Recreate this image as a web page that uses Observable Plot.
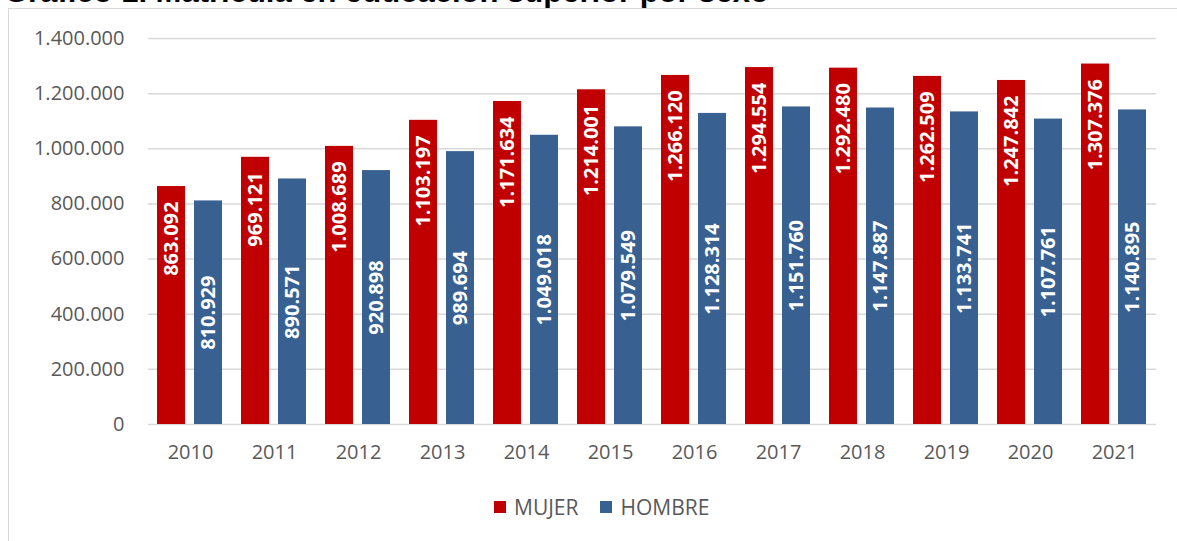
<!DOCTYPE html>
<html>
<head>
<meta charset="utf-8">
<script src="https://cdn.jsdelivr.net/npm/d3@7"></script>
<script src="https://cdn.jsdelivr.net/npm/@observablehq/plot@0.6"></script>
<style>
  html, body { margin: 0; padding: 0; background: #fff; overflow: hidden; }
  #wrap { position: relative; width: 1177px; height: 541px; overflow: hidden; }
  #title { position: absolute; left: 4px; top: -26px; font: bold 31px "Liberation Sans", Arial, sans-serif; color: #000; white-space: nowrap; line-height: 36px; }
  #frame { position: absolute; left: 8px; top: 8px; width: 1200px; height: 600px; border: 1px solid #d9d9d9; box-sizing: border-box; }
  #chart { position: absolute; left: 0; top: 0; }
  #legend { position: absolute; left: 494px; top: 493px; display: flex; align-items: center; font: 21px "Open Sans", sans-serif; color: #595959; }
  #legend .sw { width: 12px; height: 12px; display: inline-block; margin-right: 8px; }
  #legend .item { display: flex; align-items: center; margin-right: 22px; }
</style>
</head>
<body>
<div id="wrap">
  <div id="title">Gráfico 1. Matrícula en educación superior por sexo</div>
  <div id="frame"></div>
  <div id="chart"></div>
  <div id="legend"></div>
</div>
<script>
const years = ["2010","2011","2012","2013","2014","2015","2016","2017","2018","2019","2020","2021"];
const series = ["MUJER", "HOMBRE"];
const colors = ["#c00000", "#386192"];
const mujer = [863092, 969121, 1008689, 1103197, 1171634, 1214001, 1266120, 1294554, 1292480, 1262509, 1247842, 1307376];
const hombre = [810929, 890571, 920898, 989694, 1049018, 1079549, 1128314, 1151760, 1147887, 1133741, 1107761, 1140895];
const yTicks = [0, 200000, 400000, 600000, 800000, 1000000, 1200000, 1400000];

const fmt = d3.formatLocale({decimal: ",", thousands: ".", grouping: [3], currency: ["", ""]}).format(",d");

const data = [];
years.forEach((yr, i) => {
  data.push({year: yr, sex: "MUJER", value: mujer[i]});
  data.push({year: yr, sex: "HOMBRE", value: hombre[i]});
});
const dM = data.filter(d => d.sex === "MUJER");
const dH = data.filter(d => d.sex === "HOMBRE");

const chart = Plot.plot({
  width: 1177,
  height: 470,
  marginLeft: 146,
  marginRight: 19,
  marginTop: 38,
  marginBottom: 46,
  style: {fontFamily: "'Open Sans', sans-serif", background: "transparent"},
  fx: {domain: years, padding: 0, label: null, axis: null},
  x: {domain: series, paddingInner: 0.237, paddingOuter: 0.228, axis: null},
  y: {domain: [0, 1400000], ticks: yTicks, label: null, axis: null},
  color: {domain: series, range: colors},
  marks: [
    Plot.gridY(yTicks, {stroke: "#d9d9d9", strokeOpacity: 1, strokeWidth: 1.5}),
    Plot.axisY(yTicks, {tickSize: 0, tickPadding: 24, tickFormat: d => d === 0 ? "0" : fmt(d), fontSize: 20, fill: "#595959", label: null}),
    Plot.axisFx({anchor: "bottom", tickSize: 0, tickPadding: 20, fontSize: 20, fill: "#595959", label: null}),
    Plot.barY(data, {fx: "year", x: "sex", y: "value", fill: "sex", inset: 0}),
    Plot.text(dM, {fx: "year", x: "sex", y: "value", text: d => fmt(d.value), rotate: -90, textAnchor: "end", lineAnchor: "middle", dy: 15, fill: "white", fontWeight: "bold", fontSize: 20}),
    Plot.text(dH, {fx: "year", x: "sex", y: d => d.value / 2, text: d => fmt(d.value), rotate: -90, textAnchor: "middle", lineAnchor: "middle", fill: "white", fontWeight: "bold", fontSize: 20})
  ]
});
document.getElementById("chart").appendChild(chart);

const legend = document.getElementById("legend");
series.forEach((s, i) => {
  const item = document.createElement("span");
  item.className = "item";
  const sw = document.createElement("span");
  sw.className = "sw";
  sw.style.background = colors[i];
  item.appendChild(sw);
  item.appendChild(document.createTextNode(s));
  legend.appendChild(item);
});
</script>
</body>
</html>
